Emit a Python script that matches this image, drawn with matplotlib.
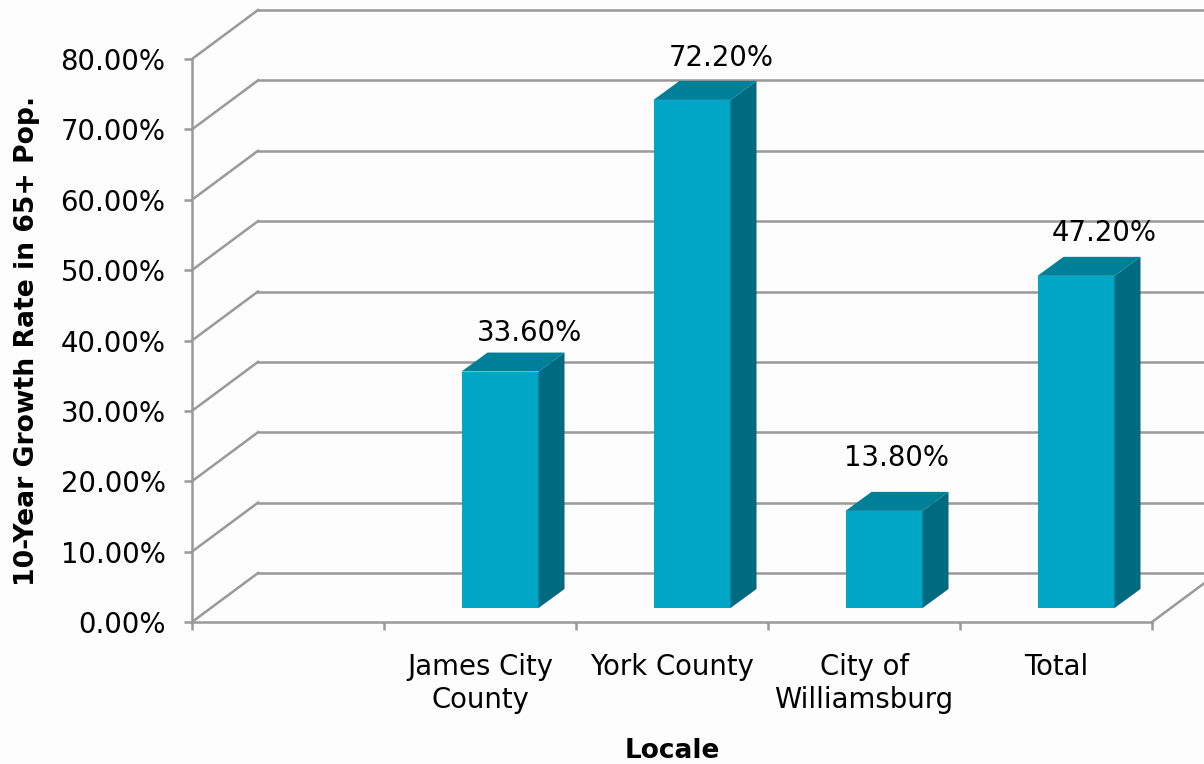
import matplotlib
matplotlib.use('Agg')
import matplotlib.pyplot as plt
from matplotlib.patches import Polygon

# datos
locales = ['James City\nCounty', 'York County', 'City of\nWilliamsburg', 'Total']
growth = [33.6, 72.2, 13.8, 47.2]
labels = ['33.60%', '72.20%', '13.80%', '47.20%']
yticks = [0, 10, 20, 30, 40, 50, 60, 70, 80]
ytick_labels = ['0.00%', '10.00%', '20.00%', '30.00%', '40.00%', '50.00%', '60.00%', '70.00%', '80.00%']

W, H = 1204, 764
GRAY = '#999999'
FRONT = '#00A6C6'
SIDE = '#006B80'
TOP = '#007F99'

# desplazamiento de cada etiqueta respecto a la barra (en puntos)
label_shift = [(21, 28), (21, 30), (9, 38), (20, 31)]

fig = plt.figure(figsize=(W / 100, H / 100), dpi=100, facecolor='#fdfdfd')
ax = fig.add_axes([192 / W, 1 - 622 / H, 960 / W, 563 / H])
ax.set_facecolor('none')
ax.set_xlim(0, 5)
ax.set_ylim(0, 80)

# profundidad del efecto 3D, en unidades de datos
wall_dx, wall_dy = 66 / 192, 49 / 7.04
front_dx, front_dy = 20 / 192, 14 / 7.04
bar_dx, bar_dy = 26 / 192, 19 / 7.04
bar_w = 77 / 192

# paredes y lineas de la grilla
for v in yticks:
    ax.plot([0, wall_dx], [v, v + wall_dy], color=GRAY, lw=1.8, clip_on=False, zorder=1)
    ax.plot([wall_dx, 5.3], [v + wall_dy, v + wall_dy], color=GRAY, lw=1.8, clip_on=False, zorder=1)
ax.plot([5, 5 + wall_dx], [0, wall_dy], color=GRAY, lw=1.8, clip_on=False, zorder=1)

# barras
for i, v in enumerate(growth):
    x0 = i + 1.5 - bar_w / 2 + front_dx
    x1 = x0 + bar_w
    y0 = front_dy
    y1 = v + front_dy
    ax.bar(x0, v, bottom=y0, width=bar_w, align='edge', color=FRONT, zorder=3, clip_on=False)
    ax.add_patch(Polygon([(x1, y0), (x1 + bar_dx, y0 + bar_dy), (x1 + bar_dx, y1 + bar_dy), (x1, y1)],
                         closed=True, color=SIDE, lw=0, zorder=3, clip_on=False))
    ax.add_patch(Polygon([(x0, y1), (x1, y1), (x1 + bar_dx, y1 + bar_dy), (x0 + bar_dx, y1 + bar_dy)],
                         closed=True, color=TOP, lw=0, zorder=3, clip_on=False))
    ax.annotate(labels[i], xy=(x0 + bar_w / 2, y1), xytext=label_shift[i], textcoords='offset points',
                ha='center', va='center', fontsize=19.8, zorder=4, annotation_clip=False)

for s in ['top', 'right']:
    ax.spines[s].set_visible(False)
for s in ['left', 'bottom']:
    ax.spines[s].set_color(GRAY)
    ax.spines[s].set_linewidth(1.8)

ax.set_yticks(yticks)
ax.set_yticklabels(ytick_labels, fontsize=19.8)
ax.set_xticks([0, 1, 2, 3, 4, 5])
ax.set_xticklabels([])
ax.set_xticks([1.5, 2.5, 3.5, 4.5], labels=locales, minor=True, fontsize=19.8, linespacing=1.27, va='top', ha='center')
ax.tick_params(axis='both', which='major', color=GRAY, width=1.8, length=6, pad=13)
ax.tick_params(axis='x', which='minor', length=0, pad=22)

fig.text(672 / W, 1 - 751 / H, 'Locale', ha='center', va='center', fontsize=19, fontweight='bold')
fig.text(27 / W, 1 - 341 / H, '10-Year Growth Rate in 65+ Pop.', ha='center', va='center',
         rotation=90, fontsize=19.2, fontweight='bold')

fig.savefig('out.png', dpi=100, facecolor=fig.get_facecolor())
